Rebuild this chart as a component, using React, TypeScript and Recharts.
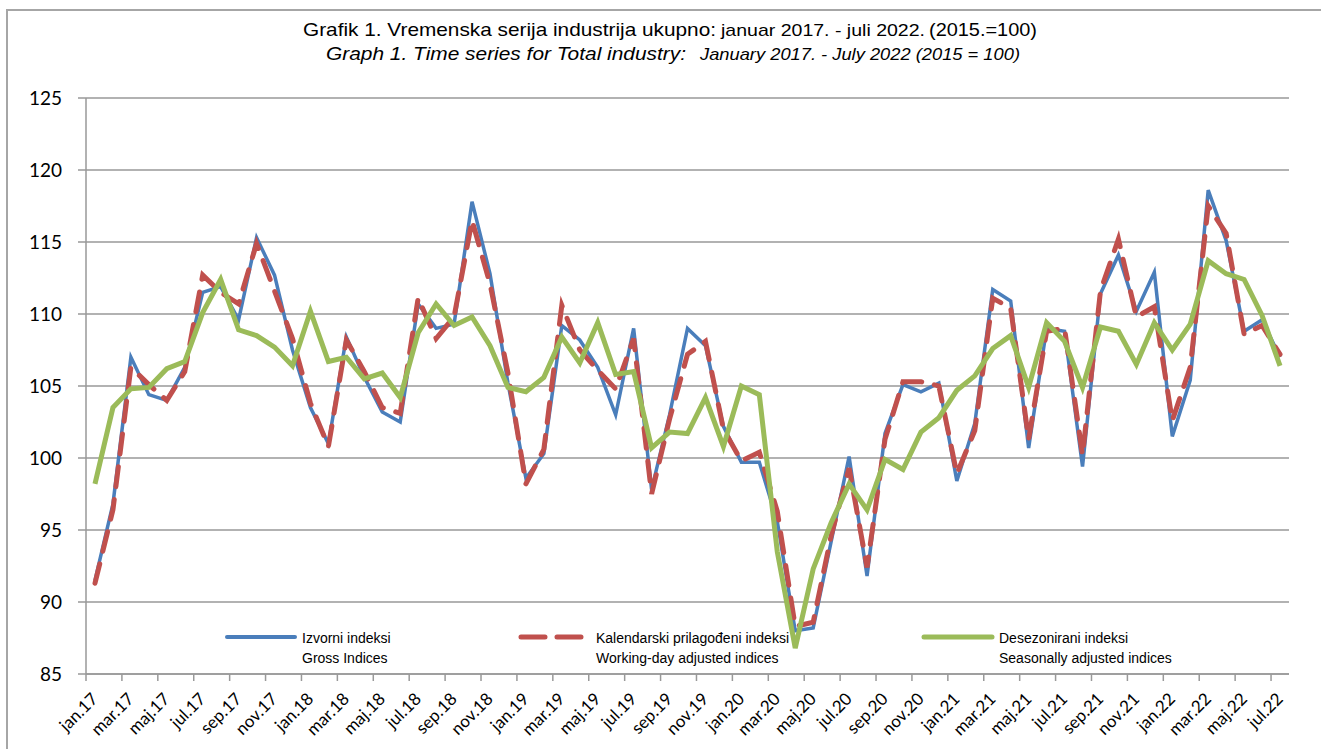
import { LineChart, Line, XAxis, YAxis, CartesianGrid } from 'recharts';

// Categories: jan 2017 .. jul 2022
const MONTHS = ['jan', 'feb', 'mar', 'apr', 'maj', 'jun', 'jul', 'aug', 'sep', 'okt', 'nov', 'dec'];
const YEARS = ['17', '18', '19', '20', '21', '22'];
const CATEGORIES: string[] = [];
YEARS.forEach((yr) => MONTHS.forEach((m) => CATEGORIES.push(`${m}.${yr}`)));
CATEGORIES.length = 67;

// Izvorni indeksi / Gross indices
const GROSS = [
  91.5, 96.8, 107.0, 104.4, 104.0, 106.3, 111.5, 111.9, 109.6, 115.3, 112.7, 107.5,
  103.5, 101.0, 108.4, 105.6, 103.2, 102.5, 110.7, 109.0, 109.3, 117.8, 112.8, 105.2,
  98.6, 100.3, 109.2, 108.2, 106.3, 103.0, 109.0, 97.8, 103.0, 109.0, 107.8, 102.2,
  99.7, 99.7, 95.6, 88.0, 88.2, 94.2, 100.1, 91.8, 101.7, 105.1, 104.6, 105.2,
  98.4, 102.4, 111.7, 110.9, 100.7, 109.0, 108.8, 99.4, 111.4, 114.1, 110.2, 112.9,
  101.5, 105.4, 118.6, 115.1, 108.8, 109.6, 107.0,
];

// Kalendarski prilagodeni / Working-day adjusted
const WORKDAY = [
  91.3, 96.4, 106.3, 105.1, 104.0, 106.0, 112.7, 111.5, 110.7, 114.9, 111.6, 108.3,
  103.8, 100.8, 108.2, 106.0, 103.5, 103.1, 111.1, 108.3, 109.8, 116.5, 112.1, 105.9,
  98.2, 100.6, 110.6, 107.5, 106.1, 104.8, 108.3, 97.5, 102.7, 107.2, 108.1, 102.0,
  99.8, 100.4, 96.3, 88.3, 88.6, 94.6, 99.3, 92.4, 101.3, 105.3, 105.3, 105.0,
  98.9, 101.9, 111.1, 110.4, 101.3, 108.8, 109.0, 100.2, 111.6, 115.2, 109.8, 110.5,
  102.6, 106.3, 117.5, 115.6, 108.6, 109.2, 107.2,
];

// Desezonirani / Seasonally adjusted
const SEASONAL = [
  98.2, 103.5, 104.8, 104.9, 106.2, 106.7, 110.1, 112.4, 108.9, 108.5, 107.7, 106.4,
  110.2, 106.7, 107.0, 105.5, 105.9, 104.2, 108.7, 110.7, 109.2, 109.8, 107.8, 104.9,
  104.6, 105.6, 108.4, 106.6, 109.4, 105.8, 106.0, 100.7, 101.8, 101.7, 104.2, 100.8,
  105.0, 104.4, 93.5, 86.8, 92.3, 95.5, 98.2, 96.4, 99.9, 99.2, 101.8, 102.8,
  104.7, 105.7, 107.6, 108.5, 104.9, 109.4, 108.1, 104.9, 109.1, 108.8, 106.5, 109.4,
  107.5, 109.3, 113.7, 112.8, 112.4, 109.9, 106.4,
];

const Y_TICKS = [85, 90, 95, 100, 105, 110, 115, 120, 125];

const data = CATEGORIES.map((name, i) => ({
  name,
  gross: GROSS[i],
  workday: WORKDAY[i],
  seasonal: SEASONAL[i],
}));

const W = 1321;
const H = 749;
const PLOT_LEFT = 86;
const PLOT_RIGHT = 1289;
const PLOT_TOP = 98;
const PLOT_BOTTOM = 674;
const BAND = (PLOT_RIGHT - PLOT_LEFT) / CATEGORIES.length;

const BLUE = '#4a7ebb';
const RED = '#c0504d';
const GREEN = '#9bbb59';
const GRID = '#999999';
const SANS = "'Liberation Sans', Arial, sans-serif";

const XTick = (props: any) => {
  const { x, y, payload } = props;
  const bx = x - BAND / 2;
  const ax = x + 4;
  const ay = y + 26;
  return (
    <g>
      <line x1={bx} y1={y} x2={bx} y2={y + 7} stroke={GRID} strokeWidth={1.5} />
      <text
        x={ax}
        y={ay}
        textAnchor="end"
        transform={`rotate(-45, ${ax}, ${ay})`}
        fontSize={17}
        fontFamily="Lato, 'Open Sans', sans-serif"
        fill="#000"
      >
        {payload.value}
      </text>
    </g>
  );
};

const LEGEND = [
  { x: 225, color: BLUE, width: 4, dash: undefined, l1: 'Izvorni indeksi', l2: 'Gross Indices' },
  { x: 519, color: RED, width: 5, dash: '24 12', l1: 'Kalendarski prilagođeni indeksi', l2: 'Working-day adjusted indices' },
  { x: 922, color: GREEN, width: 5, dash: undefined, l1: 'Desezonirani indeksi', l2: 'Seasonally adjusted indices' },
];

export default function App() {
  return (
    <div style={{ position: 'fixed', left: 0, top: 0, width: W, height: H, overflow: 'hidden', background: '#fff' }}>
      <LineChart
        width={W}
        height={H}
        data={data}
        margin={{ top: PLOT_TOP, right: W - PLOT_RIGHT, bottom: 0, left: 6 }}
      >
        <CartesianGrid vertical={false} stroke={GRID} strokeWidth={1.5} />
        <XAxis
          dataKey="name"
          interval={1}
          padding={{ left: BAND / 2, right: BAND / 2 }}
          height={H - PLOT_BOTTOM}
          tickLine={false}
          tickSize={0}
          tickMargin={0}
          axisLine={{ stroke: GRID, strokeWidth: 1.5 }}
          tick={<XTick />}
        />
        <YAxis
          domain={[85, 125]}
          ticks={Y_TICKS}
          width={PLOT_LEFT - 6}
          tickSize={8}
          tickMargin={16}
          axisLine={{ stroke: GRID, strokeWidth: 1.5 }}
          tickLine={{ stroke: GRID, strokeWidth: 1.5 }}
          tick={{ fontSize: 19, fill: '#000', fontFamily: "Lato, 'Open Sans', sans-serif" }}
        />
        <Line
          type="linear"
          dataKey="gross"
          stroke={BLUE}
          strokeWidth={3.5}
          dot={false}
          isAnimationActive={false}
        />
        <Line
          type="linear"
          dataKey="workday"
          stroke={RED}
          strokeWidth={5}
          strokeDasharray="20 13"
          strokeLinecap="round"
          dot={false}
          isAnimationActive={false}
        />
        <Line
          type="linear"
          dataKey="seasonal"
          stroke={GREEN}
          strokeWidth={5}
          dot={false}
          isAnimationActive={false}
        />
      </LineChart>
      <svg
        width={W}
        height={H}
        style={{ position: 'absolute', left: 0, top: 0, pointerEvents: 'none' }}
      >
        <rect x={7} y={10} width={W + 20} height={H + 20} fill="none" stroke="#a6a6a6" strokeWidth={2} />
        {/* title */}
        <g fontFamily={SANS} fill="#000">
          <text x={303} y={36} fontSize={19} textLength={413} lengthAdjust="spacingAndGlyphs">
            Grafik 1. Vremenska serija industrija ukupno:
          </text>
          <text x={721} y={36} fontSize={17} textLength={204} lengthAdjust="spacingAndGlyphs">
            januar 2017. - juli 2022.
          </text>
          <text x={929} y={36} fontSize={19} textLength={108} lengthAdjust="spacingAndGlyphs">
            (2015.=100)
          </text>
          <text x={326} y={60} fontSize={19} fontStyle="italic" textLength={360} lengthAdjust="spacingAndGlyphs">
            Graph 1. Time series for Total industry:
          </text>
          <text x={700} y={60} fontSize={17} fontStyle="italic" textLength={320} lengthAdjust="spacingAndGlyphs">
            January 2017. -  July 2022 (2015 = 100)
          </text>
        </g>
        {/* legend */}
        {LEGEND.map((it) => (
          <g key={it.l1}>
            <line
              x1={it.x + 2}
              y1={637}
              x2={it.x + 70}
              y2={637}
              stroke={it.color}
              strokeWidth={it.width}
              strokeLinecap="round"
              strokeDasharray={it.dash}
            />
            <text x={it.x + 77} y={643} fontSize={14} fontFamily={SANS} fill="#000">
              {it.l1}
            </text>
            <text x={it.x + 77} y={663} fontSize={14} fontFamily={SANS} fill="#000">
              {it.l2}
            </text>
          </g>
        ))}
      </svg>
    </div>
  );
}
